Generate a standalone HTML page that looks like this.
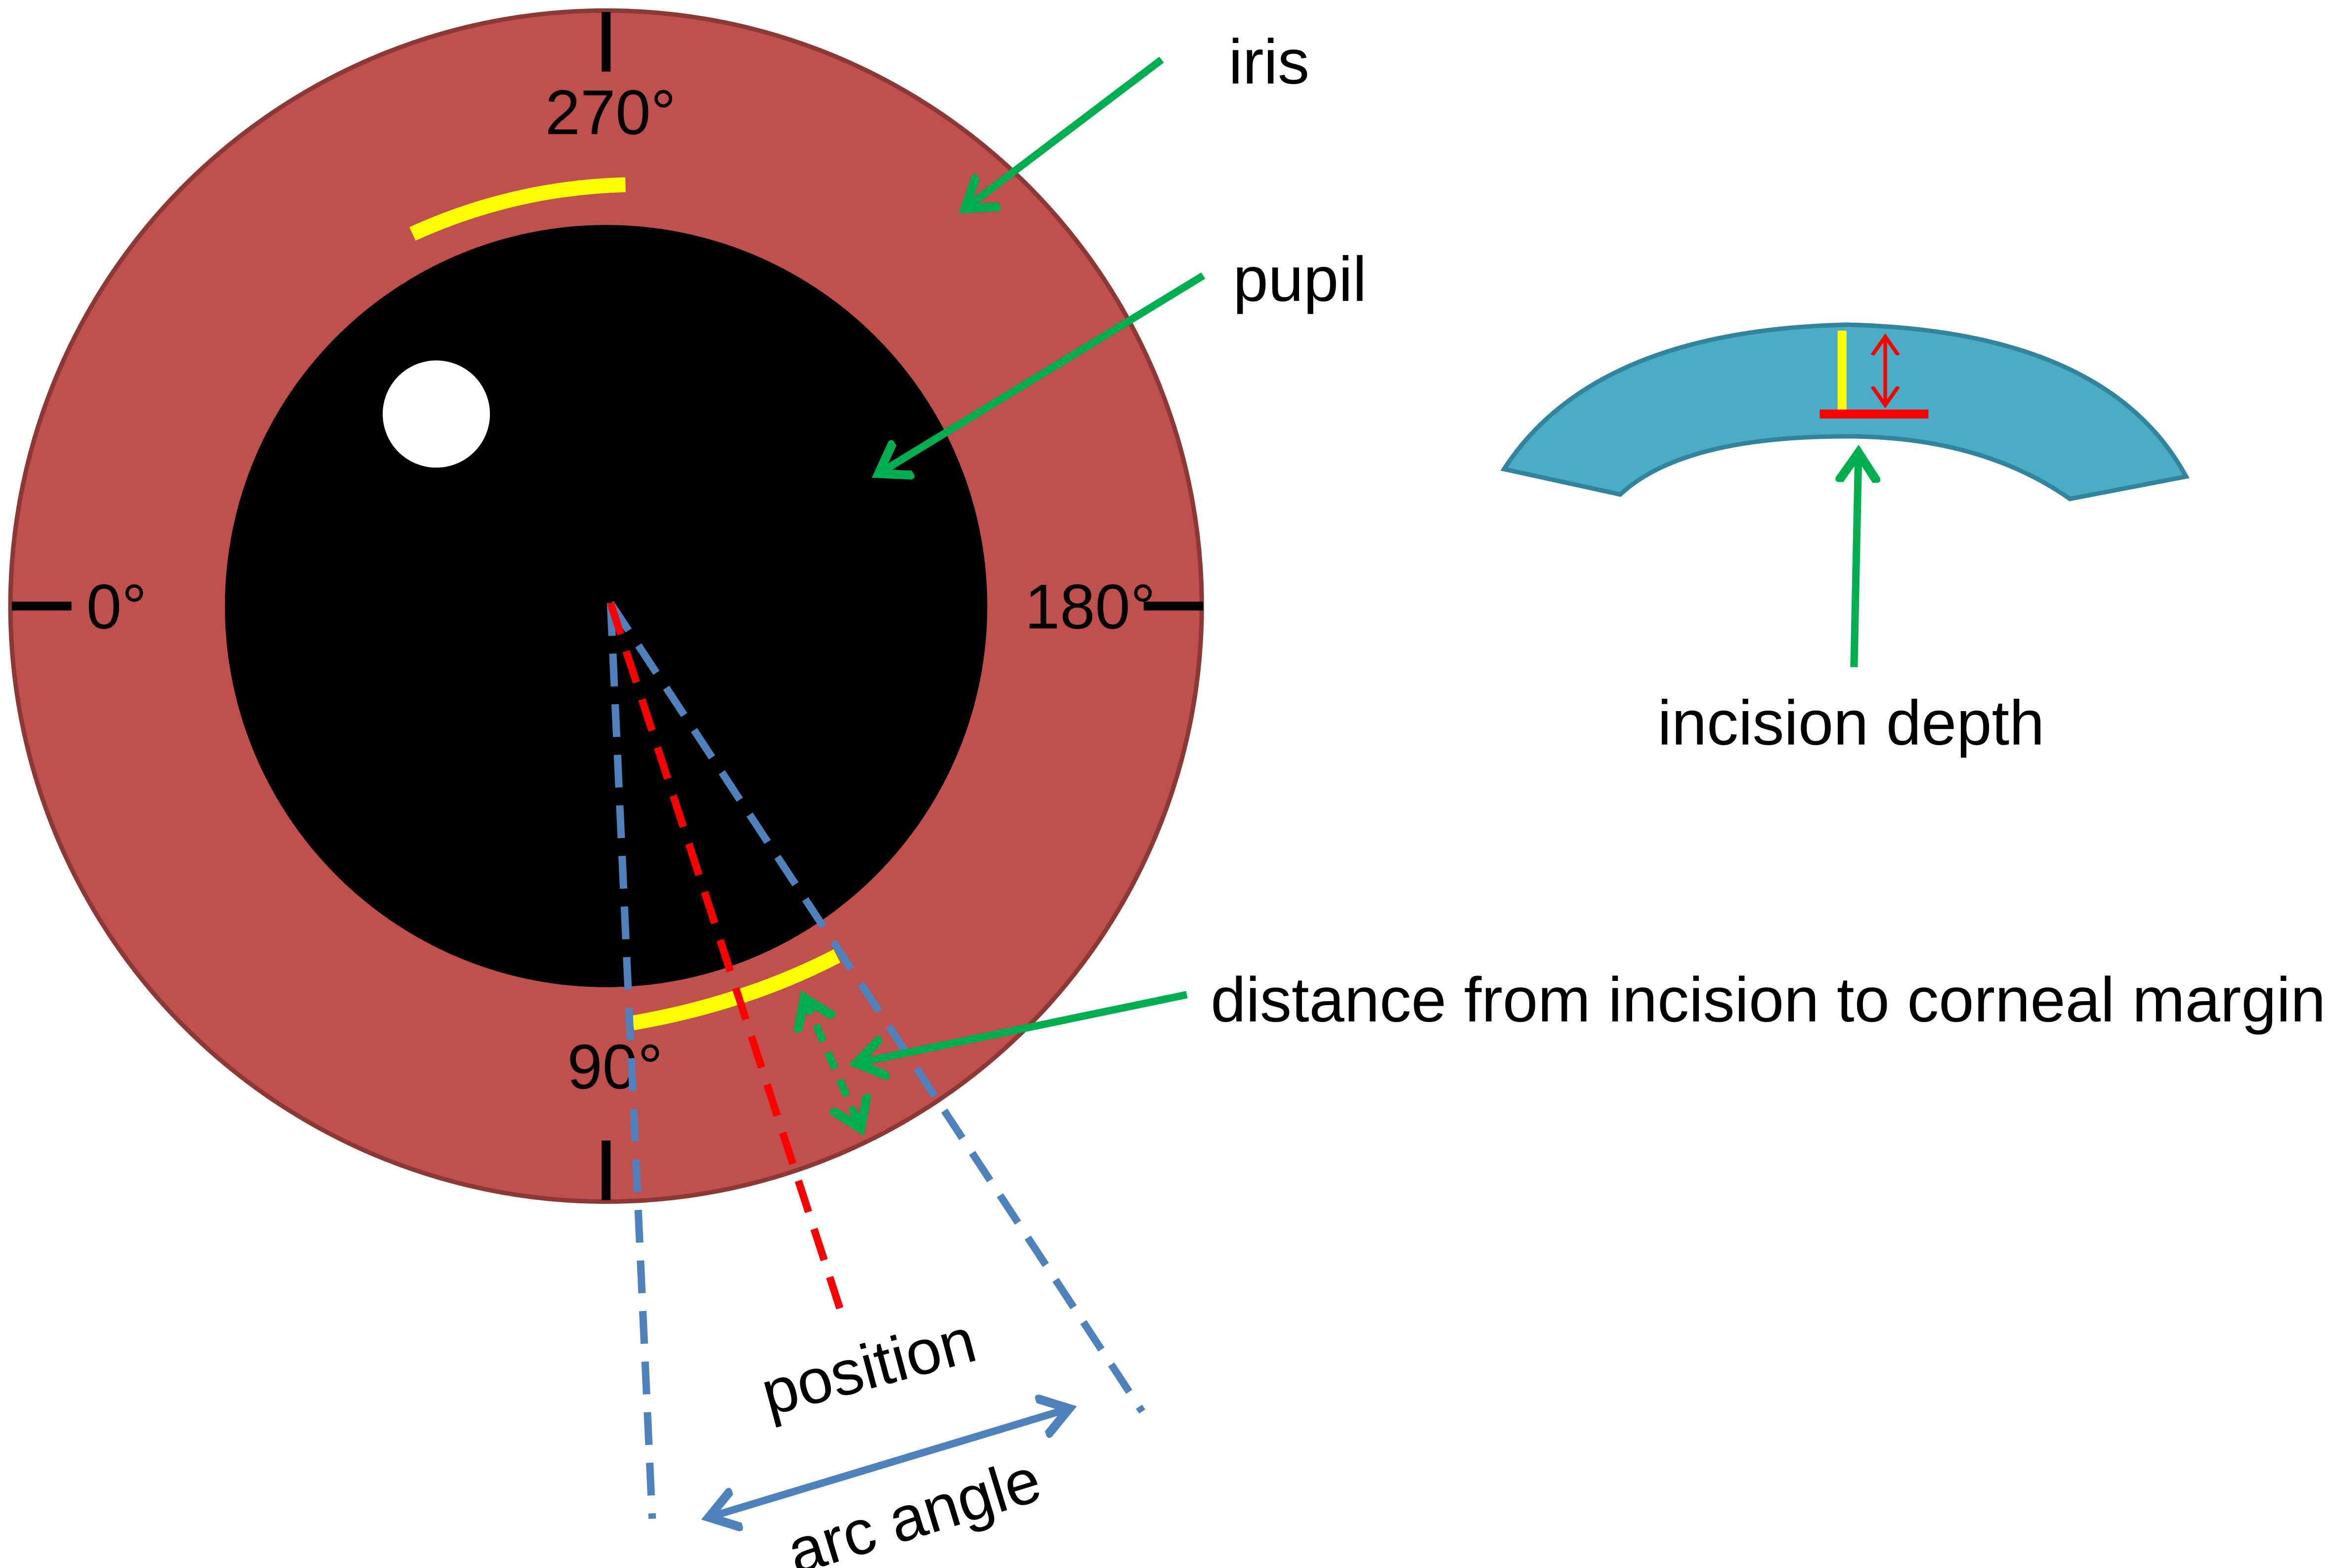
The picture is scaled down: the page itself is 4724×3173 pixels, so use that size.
<!DOCTYPE html>
<html><head><meta charset="utf-8"><style>
html,body{margin:0;padding:0;background:#fff;}
svg{display:block;}
text{font-family:"Liberation Sans",Arial,sans-serif;font-size:42.5px;fill:#000;}
</style></head><body>
<svg width="4724" height="3173" viewBox="0 0 1568 1053" xmlns="http://www.w3.org/2000/svg">
<defs>
<marker id="ga" markerWidth="6" markerHeight="6" refX="4" refY="3" orient="auto" markerUnits="strokeWidth"><path d="M0,0.3 L4,3 L0,5.7" fill="none" stroke="#00B050" stroke-width="1.2"/></marker>
<marker id="ba" markerWidth="6" markerHeight="6" refX="4" refY="3" orient="auto-start-reverse" markerUnits="strokeWidth"><path d="M0,0.3 L4,3 L0,5.7" fill="none" stroke="#4F81BD" stroke-width="1.2"/></marker>
<marker id="gd" markerWidth="6" markerHeight="6" refX="4" refY="3" orient="auto-start-reverse" markerUnits="strokeWidth"><path d="M0,0.3 L4,3 L0,5.7" fill="none" stroke="#00B050" stroke-width="1.2"/></marker>
<marker id="ra" markerWidth="8" markerHeight="8" refX="5" refY="4" orient="auto-start-reverse" markerUnits="strokeWidth"><path d="M0,0.5 L5,4 L0,7.5" fill="none" stroke="#FF0000" stroke-width="1"/></marker>
</defs>
<circle cx="407" cy="407" r="400" fill="#C0504D" stroke="#8C3836" stroke-width="3"/>
<circle cx="407" cy="407" r="256" fill="#000"/>
<circle cx="293" cy="278" r="36" fill="#fff"/>
<g stroke="#000" stroke-width="6">
<line x1="407" y1="8" x2="407" y2="48"/>
<line x1="8" y1="407" x2="48" y2="407"/>
<line x1="768" y1="407" x2="808" y2="407"/>
<line x1="407" y1="766" x2="407" y2="806"/>
</g>
<text x="410" y="90" text-anchor="middle">270°</text>
<text x="58" y="422">0°</text>
<text x="776" y="422" text-anchor="end">180°</text>
<text x="413" y="731" text-anchor="middle">90°</text>
<path d="M277,157 Q345,126 420,124" fill="none" stroke="#FFFF00" stroke-width="10"/>
<path d="M425,687 Q500,674 562,642" fill="none" stroke="#FFFF00" stroke-width="10"/>
<g stroke-width="5" stroke-dasharray="22,12" fill="none">
<line x1="410" y1="405" x2="438" y2="1020" stroke="#4F81BD"/>
<line x1="410" y1="405" x2="767" y2="948" stroke="#4F81BD"/>
<line x1="410" y1="405" x2="567" y2="888" stroke="#FF0000"/>
</g>
<line x1="540" y1="670" x2="578" y2="758" stroke="#00B050" stroke-width="5" stroke-dasharray="12,8" marker-start="url(#gd)" marker-end="url(#gd)"/>
<line x1="476" y1="1019" x2="718" y2="946" stroke="#4F81BD" stroke-width="5" marker-start="url(#ba)" marker-end="url(#ba)"/>
<g stroke="#00B050" stroke-width="5" fill="none">
<line x1="780" y1="40" x2="648" y2="140" marker-end="url(#ga)"/>
<line x1="808" y1="185" x2="590" y2="318" marker-end="url(#ga)"/>
<line x1="797" y1="668" x2="575" y2="714" marker-end="url(#ga)"/>
<line x1="1245" y1="448" x2="1248" y2="304" marker-end="url(#ga)"/>
</g>
<text x="825" y="56">iris</text>
<text x="828" y="202">pupil</text>
<text x="813" y="686">distance from incision to corneal margin</text>
<text x="1243" y="500" text-anchor="middle">incision depth</text>
<text x="0" y="0" transform="translate(587,932) rotate(-15)" text-anchor="middle">position</text>
<text x="0" y="0" transform="translate(618,1032) rotate(-17)" text-anchor="middle">arc angle</text>
<path d="M1010,315 Q1070,222 1240,218 Q1415,222 1468,320 L1390,335 Q1330,293 1240,293 Q1130,293 1088,332 Z" fill="#4BACC6" stroke="#31849B" stroke-width="3"/>
<line x1="1237" y1="222" x2="1237" y2="277" stroke="#FFFF00" stroke-width="6"/>
<line x1="1222" y1="278" x2="1295" y2="278" stroke="#FF0000" stroke-width="6"/>
<line x1="1266" y1="226" x2="1266" y2="272" stroke="#FF0000" stroke-width="2.5" marker-start="url(#ra)" marker-end="url(#ra)"/>
</svg>
</body></html>
